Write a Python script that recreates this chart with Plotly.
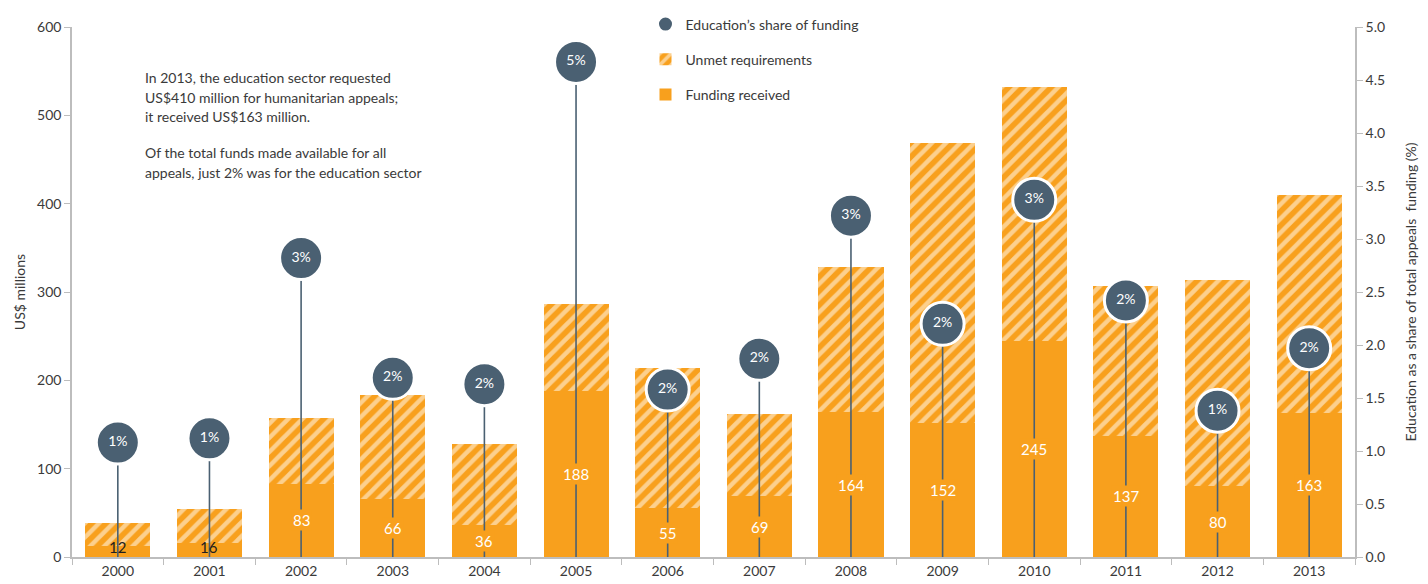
import plotly.graph_objects as go

# Humanitarian appeals for education, 2000-2013
years = ["2000", "2001", "2002", "2003", "2004", "2005", "2006",
         "2007", "2008", "2009", "2010", "2011", "2012", "2013"]
funding_received = [12, 16, 83, 66, 36, 188, 55, 69, 164, 152, 245, 137, 80, 163]
total_requested = [39, 54, 157, 183, 128, 286, 214, 162, 328, 469, 532, 307, 314, 410]
education_share = [1.08, 1.12, 2.82, 1.69, 1.63, 4.67, 1.58, 1.87, 3.22, 2.20,
                   3.37, 2.42, 1.38, 1.97]
share_labels = ["1%", "1%", "3%", "2%", "2%", "5%", "2%", "2%", "3%", "2%",
                "3%", "2%", "1%", "2%"]
note_lines = [
    "In 2013, the education sector requested",
    "US$410 million for humanitarian appeals;",
    "it received US$163 million.",
    "Of the total funds made available for all",
    "appeals, just 2% was for the education sector",
]

unmet = [t - r for t, r in zip(total_requested, funding_received)]

ORANGE = "#F8A01D"
SLATE = "#4A6072"
AXIS_GREY = "#BDBDBD"
TEXT = "#3A3A3A"
FONT = "Lato"

fig = go.Figure()

fig.add_trace(go.Bar(
    x=years, y=funding_received, name="Funding received",
    marker=dict(color=ORANGE, line=dict(width=0)),
    legendrank=3, legendgroup="c", hoverinfo="skip",
))
fig.add_trace(go.Bar(
    x=years, y=unmet, name="Unmet requirements",
    marker=dict(color=ORANGE, line=dict(width=0),
                pattern=dict(shape="/", fgcolor="white", bgcolor=ORANGE,
                             size=10, solidity=0.45, fillmode="overlay")),
    legendrank=2, legendgroup="b", hoverinfo="skip",
))

# stems from the baseline up to each share marker
stem_x, stem_y = [], []
for yr, s in zip(years, education_share):
    stem_x += [yr, yr, None]
    stem_y += [0, s, None]
fig.add_trace(go.Scatter(
    x=stem_x, y=stem_y, mode="lines", yaxis="y2",
    line=dict(color=SLATE, width=1.6), showlegend=False, hoverinfo="skip",
))
fig.add_trace(go.Scatter(
    x=years, y=education_share, yaxis="y2", mode="markers+text",
    name="Education’s share of funding",
    marker=dict(size=43, color=SLATE, line=dict(color="white", width=3)),
    text=share_labels, textposition="middle center",
    textfont=dict(color="white", size=14, family=FONT),
    legendrank=1, legendgroup="a", hoverinfo="skip",
))

# value labels on the funding-received segment (x given as category index)
annotations = []
for i, v in enumerate(funding_received):
    small = v < 30
    annotations.append(dict(
        x=i, y=max(v / 2, 11.5), xref="x", yref="y", text=str(v),
        showarrow=False,
        font=dict(color="#1E1E1E" if small else "white", size=15, family=FONT),
        bgcolor="rgba(0,0,0,0)" if small else ORANGE, borderpad=1,
    ))

# explanatory note, one line per annotation for even leading
note_tops = [67, 87, 106, 142, 162]
for line, top in zip(note_lines, note_tops):
    annotations.append(dict(
        x=0.0553, y=(557 - top) / 530, xref="paper", yref="paper",
        xanchor="left", yanchor="top", align="left", showarrow=False,
        text=line, font=dict(size=14, color=TEXT, family=FONT),
    ))

fig.update_layout(
    width=1428, height=584,
    margin=dict(l=72, r=73, t=27, b=27, autoexpand=False),
    paper_bgcolor="white", plot_bgcolor="white",
    barmode="stack", bargap=0.29,
    font=dict(family=FONT, size=14, color=TEXT),
    showlegend=True,
    legend=dict(x=0.447, y=1.035, xanchor="left", yanchor="top",
                font=dict(size=14, color=TEXT), tracegroupgap=14,
                bgcolor="rgba(0,0,0,0)"),
    annotations=annotations,
    xaxis=dict(type="category", range=[-0.5, len(years) - 0.5],
               tickson="boundaries", ticks="outside", automargin=False,
               ticklen=6, tickcolor=AXIS_GREY, showline=True,
               linecolor=AXIS_GREY, linewidth=1.5, showgrid=False,
               tickfont=dict(size=14, color=TEXT)),
    yaxis=dict(range=[0, 600], dtick=100, ticks="outside", ticklen=6,
               tickcolor=AXIS_GREY, showline=True, linecolor=AXIS_GREY,
               linewidth=1.5, showgrid=False, zeroline=False, automargin=False,
               title=dict(text="US$ millions", font=dict(size=14, color=TEXT),
                          standoff=8),
               tickfont=dict(size=14, color=TEXT)),
    yaxis2=dict(range=[0, 5], dtick=0.5, tickformat=".1f", overlaying="y",
                side="right", ticks="outside", ticklen=6, tickcolor=AXIS_GREY,
                showline=True, linecolor=AXIS_GREY, linewidth=1.5,
                showgrid=False, zeroline=False, automargin=False,
                title=dict(text="Education as a share of total appeals  funding (%)",
                           font=dict(size=14, color=TEXT), standoff=22),
                tickfont=dict(size=14, color=TEXT)),
)

fig.write_html("out.html")
